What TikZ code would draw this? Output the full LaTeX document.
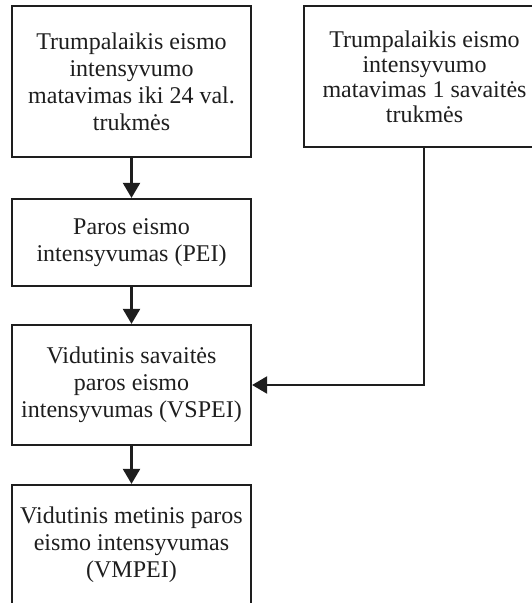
\documentclass[tikz,border=0pt]{standalone}
\usepackage{fontspec}
\setmainfont{Liberation Serif}
\usetikzlibrary{arrows.meta}
\definecolor{ink}{HTML}{1E1E1E}
\begin{document}
\begin{tikzpicture}[x=1pt,y=-1pt,
  box/.style={draw=ink, line width=2.2pt, text=ink, align=center, inner sep=0pt,
    font=\fontsize{24}{27}\selectfont},
  conn/.style={draw=ink, line width=2.2pt, -{Triangle[length=15pt,width=17pt]}}]
\useasboundingbox (0,0) rectangle (532,603);
\clip (0,0) rectangle (532,603);
\node[box, minimum width=239pt, minimum height=151pt] (b1) at (131.5,81.5)
  {Trumpalaikis eismo\\intensyvumo\\matavimas iki 24 val.\\trukmės};
\node[box, minimum width=241pt, minimum height=141pt, font=\fontsize{24}{25}\selectfont] (b2) at (424.5,76.5)
  {Trumpalaikis eismo\\intensyvumo\\matavimas 1 savaitės\\trukmės};
\node[box, minimum width=239pt, minimum height=87pt] (pei) at (131.5,242.5)
  {Paros eismo\\intensyvumas (PEI)};
\node[box, minimum width=239pt, minimum height=120pt] (vspei) at (131.5,385)
  {Vidutinis savaitės\\paros eismo\\intensyvumas (VSPEI)};
\node[box, minimum width=239pt, minimum height=120pt] (vmpei) at (131.5,545)
  {Vidutinis metinis paros\\eismo intensyvumas\\(VMPEI)};
\coordinate (turn) at (424,385);
\draw[conn] (b1) -- (pei);
\draw[conn] (pei) -- (vspei);
\draw[conn] (vspei) -- (vmpei);
\draw[conn] (b2.south -| turn) -- (turn) -- (vspei.east);
\end{tikzpicture}
\end{document}
